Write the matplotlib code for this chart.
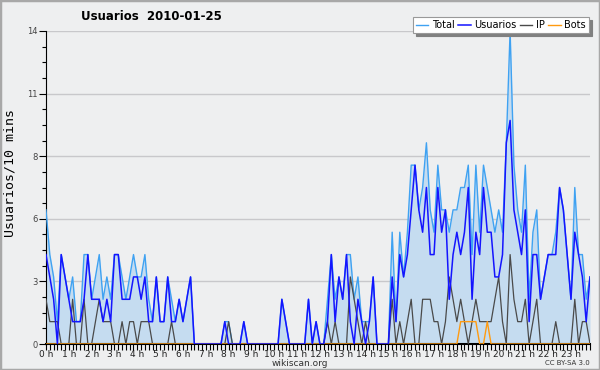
import matplotlib
matplotlib.use("Agg")
import matplotlib.pyplot as plt
from matplotlib.lines import Line2D
from matplotlib.patches import Rectangle
import numpy as np

# users per 10 minutes, 144 slots (0 h .. 23 h 50)
usuarios = [4, 3, 2, 0, 4, 3, 2, 1, 1, 1,
            2, 4, 2, 2, 2, 1, 2, 1, 4, 4,
            2, 2, 2, 3, 3, 2, 3, 1, 1, 3,
            1, 1, 3, 1, 1, 2, 1, 2, 3, 0,
            0, 0, 0, 0, 0, 0, 0, 1, 0, 0,
            0, 0, 1, 0, 0, 0, 0, 0, 0, 0,
            0, 0, 2, 1, 0, 0, 0, 0, 0, 2,
            0, 1, 0, 0, 1, 4, 1, 3, 2, 4,
            1, 0, 2, 1, 0, 1, 3, 0, 0, 0,
            0, 3, 1, 4, 3, 4, 6, 8, 6, 5,
            7, 4, 4, 7, 5, 6, 2, 4, 5, 4,
            5, 7, 2, 5, 4, 7, 5, 5, 3, 3,
            4, 9, 10, 6, 5, 4, 6, 1, 4, 4,
            2, 3, 4, 4, 4, 7, 6, 4, 2, 5,
            4, 3, 1, 3]

ip = [2, 1, 1, 1, 0, 0, 0, 2, 0, 0,
      2, 0, 0, 1, 2, 1, 1, 1, 0, 0,
      1, 0, 1, 1, 0, 1, 1, 1, 0, 0,
      0, 0, 0, 1, 0, 0, 0, 0, 0, 0,
      0, 0, 0, 0, 0, 0, 0, 0, 1, 0,
      0, 0, 0, 0, 0, 0, 0, 0, 0, 0,
      0, 0, 0, 0, 0, 0, 0, 0, 0, 0,
      0, 0, 0, 0, 1, 0, 1, 0, 0, 0,
      3, 2, 1, 0, 1, 0, 0, 0, 0, 0,
      0, 2, 0, 1, 0, 1, 2, 0, 0, 2,
      2, 2, 1, 1, 0, 1, 3, 2, 1, 2,
      1, 0, 1, 2, 1, 1, 1, 1, 2, 3,
      1, 0, 4, 2, 1, 1, 2, 0, 1, 2,
      0, 0, 0, 0, 1, 0, 0, 0, 0, 2,
      0, 1, 1, 0]

bots = [0] * 109 + [1, 1, 1, 1, 1, 0, 0, 1] + [0] * 27

total = [6, 4, 3, 1, 4, 3, 2, 3, 1, 1,
         4, 4, 2, 3, 4, 2, 3, 2, 4, 4,
         3, 2, 3, 4, 3, 3, 4, 2, 1, 3,
         1, 1, 3, 2, 1, 2, 1, 2, 3, 0,
         0, 0, 0, 0, 0, 0, 0, 1, 1, 0,
         0, 0, 1, 0, 0, 0, 0, 0, 0, 0,
         0, 0, 2, 1, 0, 0, 0, 0, 0, 2,
         0, 1, 0, 0, 2, 4, 2, 3, 2, 4,
         4, 2, 3, 1, 1, 1, 3, 0, 0, 0,
         0, 5, 1, 5, 3, 5, 8, 8, 6, 7,
         9, 6, 5, 8, 6, 6, 5, 6, 6, 7,
         7, 8, 4, 8, 5, 8, 7, 6, 5, 6,
         5, 9, 14, 8, 6, 5, 8, 2, 5, 6,
         2, 3, 4, 4, 5, 7, 6, 4, 2, 7,
         4, 4, 2, 3]

hour_labels = ["%d h" % h for h in range(24)]
ytick_labels = ["0", "3", "6", "8", "11", "14"]

bg = "#eeeff0"
c_total = "#3fa2f2"
c_user = "#1414ff"
c_ip = "#4a4a4a"
c_bots = "#ff9a10"

x = np.arange(len(total))

fig = plt.figure(figsize=(6, 3.7), dpi=100, facecolor=bg)
ax = fig.add_axes([46 / 600, 1 - 344 / 370, 544 / 600, 313 / 370])
ax.set_facecolor(bg)

ax.fill_between(x, total, 0, color="#c5dcf0", lw=0, zorder=1)
ax.plot(x, total, color=c_total, lw=1.0, zorder=3)
ax.plot(x, ip, color=c_ip, lw=0.9, zorder=4)
ax.plot(x, bots, color=c_bots, lw=1.0, zorder=4)
ax.plot(x, usuarios, color=c_user, lw=1.1, zorder=5)

ax.set_xlim(0, 143)
ax.set_ylim(0, 14)

for s in ["top", "right"]:
    ax.spines[s].set_visible(False)
ax.spines["left"].set_color("black")
ax.spines["bottom"].set_color("black")
ax.spines["bottom"].set_linewidth(1.5)

yt = np.linspace(0, 14, 6)
ax.set_yticks(yt)
ax.set_yticklabels(ytick_labels, fontsize=6, color="#444444")
ax.set_yticks(np.linspace(0, 14, 21), minor=True)
ax.tick_params(axis="y", which="major", length=5, width=0.8, pad=1)
ax.tick_params(axis="y", which="minor", length=3, width=0.8)
ax.yaxis.grid(True, color="#c8c8cb", lw=1)
ax.set_axisbelow(True)

ax.set_xticks(np.arange(0, 144, 6))
ax.set_xticklabels(hour_labels, fontsize=6.5, color="#222222")
ax.set_xticks(np.arange(0, 144), minor=True)
ax.tick_params(axis="x", which="both", length=4, width=0.8, pad=0)

fig.text(151 / 600, 1 - 16 / 370, "Usuarios  2010-01-25", fontsize=8.5,
         fontweight="bold", ha="center", va="center")
fig.text(10 / 600, 1 - 173 / 370, "Usuarios/10 mins", rotation=90,
         fontsize=9.5, family="DejaVu Sans Mono", ha="center", va="center")
fig.text(300 / 600, 1 - 363 / 370, "wikiscan.org", fontsize=6.5,
         color="#333333", ha="center", va="center")
fig.text(590 / 600, 1 - 363 / 370, "CC BY-SA 3.0", fontsize=5,
         color="#333333", ha="right", va="center")

handles = [Line2D([], [], color=c_total, lw=1),
           Line2D([], [], color=c_user, lw=1.1),
           Line2D([], [], color=c_ip, lw=1),
           Line2D([], [], color=c_bots, lw=1)]
leg = fig.legend(handles, ["Total", "Usuarios", "IP", "Bots"], ncol=4,
                 loc="upper right", bbox_to_anchor=(589 / 600, 1 - 17 / 370),
                 fontsize=7, frameon=True, fancybox=False,
                 shadow={"color": "#808080", "alpha": 1},
                 edgecolor="#999999", facecolor="white", framealpha=1,
                 borderpad=0.3, handlelength=1.3, handletextpad=0.4,
                 columnspacing=0.3, borderaxespad=0)
leg.get_frame().set_linewidth(0.8)

fig.patches.append(Rectangle((0, 0), 1, 1, transform=fig.transFigure,
                             fill=False, edgecolor="#a8a8a8", lw=2.5))

fig.savefig("out.png", dpi=100, facecolor=bg)
